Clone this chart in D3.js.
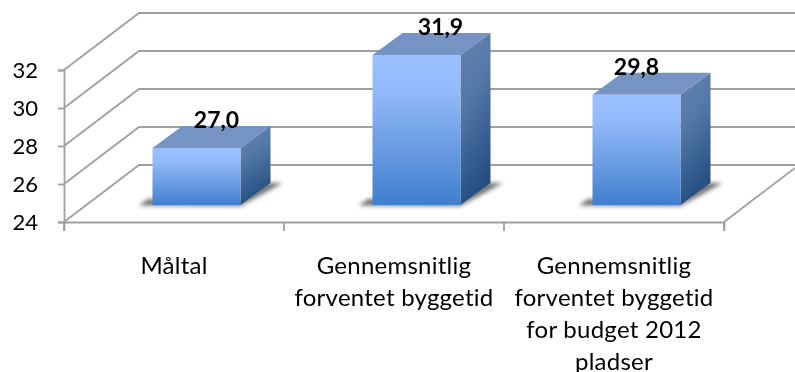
<!DOCTYPE html>
<html>
<head>
<meta charset="utf-8">
<script src="https://cdn.jsdelivr.net/npm/d3@7"></script>
<style>
  html, body { margin: 0; padding: 0; background: #fff; }
  svg { display: block; font-family: Lato, "Open Sans", sans-serif; font-variant-ligatures: none; filter: blur(0.35px); }
</style>
</head>
<body>
<script>
const categories = ["Måltal", "Gennemsnitlig forventet byggetid", "Gennemsnitlig forventet byggetid for budget 2012 pladser"];
const values = [27.0, 31.9, 29.8];
const valueLabels = ["27,0", "31,9", "29,8"];
const tickValues = [24, 26, 28, 30, 32];
const categoryLines = [
  ["Måltal"],
  ["Gennemsnitlig", "forventet byggetid"],
  ["Gennemsnitlig", "forventet byggetid", "for budget 2012", "pladser"]
];

const width = 795, height = 372;
const wallDx = 75, wallDy = -57;     // depth of the floor
const barDx = 30, barDy = -22;       // depth of a bar
const floorDx = 22.5, floorDy = -17; // where the bars stand on the floor
const barWidth = 88;
const labelShift = [20, 24, 0];      // excel moved these by hand
const gridColor = "#a0a0a0";

const x = d3.scaleBand().domain(categories).range([64, 724]);
const y = d3.scaleLinear().domain([24, 32]).range([222, 70]);

const svg = d3.select("body").append("svg")
  .attr("width", width)
  .attr("height", height)
  .attr("viewBox", [0, 0, width, height]);

const defs = svg.append("defs");

function gradient(id, x2, y2, stops) {
  const g = defs.append("linearGradient").attr("id", id)
    .attr("x1", 0).attr("y1", 0).attr("x2", x2).attr("y2", y2);
  stops.forEach(([o, c]) => g.append("stop").attr("offset", o).attr("stop-color", c));
}
gradient("front", 0, 1, [[0, "#9ac0ff"], [0.25, "#92b9f8"], [1, "#3f7fcd"]]);
gradient("side", 0.25, 1, [[0, "#6480ad"], [0.4, "#557aa8"], [1, "#254e82"]]);

defs.append("filter").attr("id", "soft")
  .attr("x", "-20%").attr("y", "-40%").attr("width", "140%").attr("height", "180%")
  .append("feGaussianBlur").attr("stdDeviation", 2);

// walls and gridlines
const grid = svg.append("g").attr("fill", "none").attr("stroke", gridColor).attr("stroke-width", 1.8);

grid.selectAll(".back")
  .data(tickValues)
  .join("path")
  .attr("d", d => `M64,${y(d)}L${64 + wallDx},${y(d) + wallDy}L${width},${y(d) + wallDy}`);

grid.append("path").attr("d", `M${x.range()[1]},${y(24)}L${width},${y(24) + wallDy * 0.95}`);

// axes
const yAxis = d3.axisLeft(y).tickValues(tickValues).tickSize(6).tickPadding(20);
const gy = svg.append("g").attr("transform", "translate(64,0)").call(yAxis);
gy.selectAll("text").attr("font-size", 22).attr("fill", "#000").attr("font-family", "Lato");

const xAxis = d3.axisBottom(x).tickSize(9).tickFormat("").tickSizeOuter(9);
const gx = svg.append("g").attr("transform", `translate(0,${y(24)})`).call(xAxis);
gx.selectAll(".tick").remove();
gx.selectAll(".inner")
  .data(categories.map(c => x(c)).concat(x.range()[1]))
  .join("line")
  .attr("x1", d => d).attr("x2", d => d).attr("y1", 0).attr("y2", 9);

svg.selectAll(".domain, .tick line, g line")
  .attr("stroke", gridColor).attr("stroke-width", 1.8);

// bars
const bars = svg.append("g").selectAll("g")
  .data(categories.map((c, i) => ({ c, v: values[i], label: valueLabels[i], i })))
  .join("g")
  .attr("transform", d => `translate(${x(d.c) + (x.bandwidth() - barWidth) / 2 + floorDx},${floorDy})`);

const base = y(24);

bars.append("path")
  .attr("d", `M-14,${base + 0.5}L${barWidth},${base + 1}L${barWidth + barDx + 12},${base + barDy}L${barWidth + barDx - 4},${base + barDy}L${barWidth},${base - 3}L-4,${base - 6}Z`)
  .attr("fill", "#3c3c3c")
  .attr("fill-opacity", 0.75)
  .attr("filter", "url(#soft)");

bars.append("path")
  .attr("d", d => `M${barWidth},${y(d.v)}L${barWidth + barDx},${y(d.v) + barDy}L${barWidth + barDx},${base + barDy}L${barWidth},${base}Z`)
  .attr("fill", "url(#side)");

bars.append("path")
  .attr("d", d => `M0,${y(d.v)}L${barDx},${y(d.v) + barDy}L${barWidth + barDx},${y(d.v) + barDy}L${barWidth},${y(d.v)}Z`)
  .attr("fill", "#7593c3");

bars.append("rect")
  .attr("x", 0)
  .attr("width", barWidth)
  .attr("y", d => y(d.v))
  .attr("height", d => base - y(d.v))
  .attr("fill", "url(#front)");

bars.append("text")
  .attr("x", d => barWidth / 2 + labelShift[d.i])
  .attr("y", d => y(d.v) - 20)
  .attr("text-anchor", "middle")
  .attr("font-size", 23)
  .attr("font-weight", "bold")
  .attr("fill", "#000")
  .text(d => d.label);

// category labels
svg.append("g").selectAll("text")
  .data(categoryLines)
  .join("text")
  .attr("text-anchor", "middle")
  .attr("font-size", 24)
  .attr("letter-spacing", 0.25)
  .attr("fill", "#000")
  .each(function (lines, i) {
    d3.select(this).selectAll("tspan")
      .data(lines)
      .join("tspan")
      .attr("x", x(categories[i]) + x.bandwidth() / 2)
      .attr("y", (d, j) => 273.5 + j * 32)
      .text(d => d);
  });
</script>
</body>
</html>
